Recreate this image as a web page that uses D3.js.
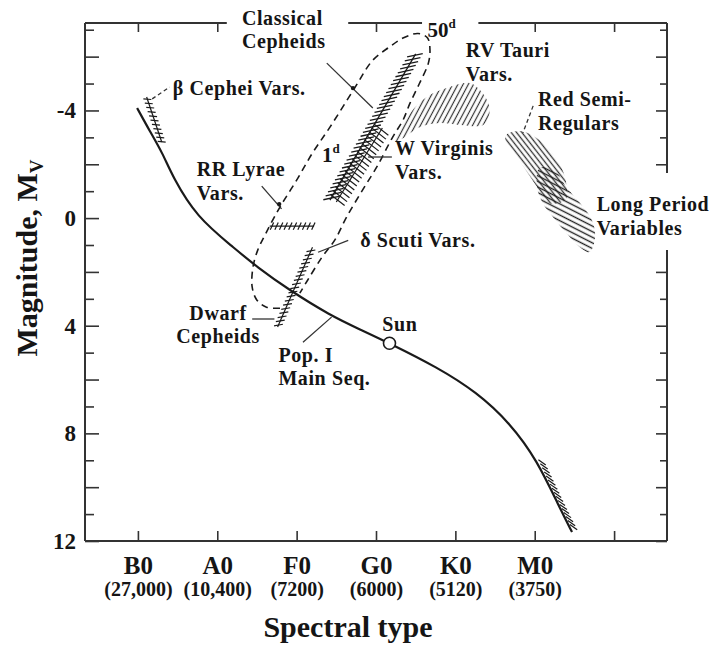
<!DOCTYPE html>
<html><head><meta charset="utf-8">
<script src="https://cdn.jsdelivr.net/npm/d3@7"></script>
<style>
html,body{margin:0;padding:0;background:#fff;}
svg{display:block;}
text{font-family:"Liberation Serif","Times New Roman",serif;font-weight:bold;fill:#151515;}
</style></head><body>
<svg id="chart" width="723" height="646"></svg>
<script>
// ---- axis categories ----
const spectralTypes = ["B0", "A0", "F0", "G0", "K0", "M0"];
const temperatures = ["(27,000)", "(10,400)", "(7200)", "(6000)", "(5120)", "(3750)"];
const magnitudeLabels = [-4, 0, 4, 8, 12];

// ---- main sequence: [spectral index, M_V] ----
const mainSequence = [[-0.01,-4.09],[0.15,-3.23],[0.31,-2.42],[0.44,-1.52],[0.74,-0.04],[1.20,1.08],
  [1.50,1.82],[1.91,2.68],[2.42,3.61],[2.80,4.14],[3.17,4.65],[3.77,5.54],[4.27,6.47],[4.69,7.62],
  [5.03,9.00],[5.31,10.74],[5.47,11.67]];
const sun = [3.17, 4.65];

// ---- instability strip boundaries ----
const stripBlueEdge = [[1.79,3.35],[1.62,3.31],[1.50,3.05],[1.44,2.57],[1.45,1.82],[1.51,1.19],[1.62,0.52],
  [1.79,-0.41],[2.00,-1.41],[2.20,-2.42],[2.42,-3.38],[2.73,-4.83],[2.96,-5.87],[3.17,-6.36],[3.34,-6.69],[3.53,-6.86]];
const stripRedEdge = [[3.65,-6.69],[3.68,-6.25],[3.66,-5.76],[3.55,-5.02],[3.43,-4.28],[3.34,-3.64],[3.21,-3.01],
  [3.01,-1.90],[2.83,-1.04],[2.63,-0.04],[2.48,0.82],[2.32,1.45],[2.14,2.30],[2.04,2.79]];

// ---- pulsating classes drawn as hatched tracks ----
const betaCephei = [[0.11,-4.50],[0.30,-2.83]];
const classicalCepheids = [[2.42,-0.67],[3.50,-6.10]];
const wVirginis = [[2.50,-0.60],[3.08,-3.35]];
const rrLyrae = [[1.66,0.30],[2.22,0.30]];
const deltaScuti = [[1.76,4.05],[2.20,1.08]];
const redDwarfs = [[5.03,9.00],[5.31,10.74],[5.45,11.55]];

// ---- pulsating classes drawn as hatched regions ----
const rvTauri = [[3.24,-2.83],[3.43,-3.90],[3.64,-4.50],[3.89,-4.83],[4.18,-5.02],[4.31,-4.76],[4.41,-4.31],
  [4.43,-3.90],[4.35,-3.46],[4.06,-3.46],[3.80,-3.53],[3.55,-3.38],[3.34,-2.97]];
const redSemiRegulars = [[4.65,-3.12],[4.84,-3.23],[5.06,-2.90],[5.21,-2.45],[5.34,-1.86],[5.40,-1.23],
  [5.39,-0.67],[5.16,-0.56],[5.03,-1.15],[4.87,-1.86],[4.74,-2.45],[4.63,-2.90]];
const longPeriodVariables = [[5.06,-1.86],[5.25,-1.78],[5.40,-1.15],[5.57,-0.56],[5.72,0.07],[5.76,0.71],
  [5.69,1.26],[5.57,1.08],[5.40,0.56],[5.23,-0.04],[5.10,-0.56],[5.03,-1.15]];

// ---- annotation text: [text, spectral index, M_V, anchor] ----
const annotations = [
  ["Classical", 1.31, -7.18, "start"], ["Cepheids", 1.31, -6.32, "start"],
  ["β Cephei Vars.", 0.44, -4.57, "start"],
  ["RR Lyrae", 0.74, -1.55, "start"], ["Vars.", 0.74, -0.68, "start"],
  ["W Virginis", 3.24, -2.33, "start"], ["Vars.", 3.24, -1.46, "start"],
  ["RV Tauri", 4.13, -5.97, "start"], ["Vars.", 4.13, -5.10, "start"],
  ["Red Semi-", 5.04, -4.15, "start"], ["Regulars", 5.04, -3.28, "start"],
  ["Long Period", 5.78, -0.25, "start"], ["Variables", 5.78, 0.62, "start"],
  ["δ Scuti Vars.", 2.80, 1.08, "start"],
  ["Dwarf", 1.01, 3.77, "middle"], ["Cepheids", 1.01, 4.64, "middle"],
  ["Pop. I", 1.77, 5.33, "start"], ["Main Seq.", 1.77, 6.20, "start"],
  ["Sun", 3.08, 4.20, "start"]
];
// period marks on the Cepheid track: [period, spectral index, M_V]
const periodMarks = [["1", 2.32, -2.08], ["50", 3.65, -6.73]];

// leader lines: [from, to], dashed flag
const leaders = [
  [[2.38,-5.76],[2.96,-4.09], false],
  [[0.18,-4.43],[0.40,-4.87], true],
  [[1.56,-1.19],[1.81,-0.34], false],
  [[2.90,-2.27],[3.20,-2.27], false],
  [[4.98,-4.17],[4.85,-3.16], true],
  [[2.65,0.83],[2.27,1.27], false],
  [[1.44,3.75],[1.72,3.75], false],
  [[2.08,4.61],[2.44,3.68], false]
];
const leaderDots = [[2.71,-4.83],[1.78,-0.52]];

// frame breaks behind labels
const topFrameGaps = [[1.12, 2.65], [3.58, 4.29]];
const rightFrameGaps = [[-1.68, 1.19]];

// ================= drawing =================
const svg = d3.select("#chart");
const x = d3.scaleLinear().domain([-2/3, 20/3]).range([85, 667]);
const y = d3.scaleLinear().domain([-7.25, 12]).range([23, 541]);
const ink = "#1a1a1a";

const defs = svg.append("defs");
function hatchPattern(id, angle, gap, width, color) {
  const p = defs.append("pattern").attr("id", id).attr("patternUnits", "userSpaceOnUse")
    .attr("width", 10).attr("height", gap).attr("patternTransform", `rotate(${angle})`);
  p.append("line").attr("x1", -1).attr("x2", 11).attr("y1", gap / 2).attr("y2", gap / 2)
    .attr("stroke", color).attr("stroke-width", width);
}
hatchPattern("hatchRV", -62, 4.6, 1.2, "#333");
hatchPattern("hatchSR", 52, 4.2, 1.3, "#333");
hatchPattern("hatchLPV", 27, 5.0, 1.4, "#222");

// ---- frame with gaps ----
const frame = svg.append("g").attr("stroke", "#333").attr("stroke-width", 2).attr("fill", "none");
function segmentsWithGaps(lo, hi, gaps) {
  const segs = []; let start = lo;
  gaps.slice().sort((a, b) => a[0] - b[0]).forEach(g => { segs.push([start, g[0]]); start = g[1]; });
  segs.push([start, hi]);
  return segs;
}
const [s0, s1] = x.domain(), [m0, m1] = y.domain();
frame.append("line").attr("x1", x(s0)).attr("x2", x(s0)).attr("y1", y(m0)).attr("y2", y(m1));
frame.append("line").attr("x1", x(s0)).attr("x2", x(s1)).attr("y1", y(m1)).attr("y2", y(m1));
segmentsWithGaps(s0, s1, topFrameGaps).forEach(s =>
  frame.append("line").attr("x1", x(s[0])).attr("x2", x(s[1])).attr("y1", y(m0)).attr("y2", y(m0)));
segmentsWithGaps(m0, m1, rightFrameGaps).forEach(s =>
  frame.append("line").attr("x1", x(s1)).attr("x2", x(s1)).attr("y1", y(s[0])).attr("y2", y(s[1])));

const inGap = (v, gaps) => gaps.some(g => v > g[0] && v < g[1]);
const majorM = d3.range(-6, 13, 2), minorM = d3.range(-7, 12, 2);

// ---- left axis ----
const yMajor = d3.axisLeft(y).tickValues(majorM).tickSize(-14).tickPadding(9)
  .tickFormat(d => magnitudeLabels.includes(d) ? String(d) : "");
const gy = svg.append("g").attr("transform", `translate(${x(s0)},0)`).call(yMajor);
svg.append("g").attr("transform", `translate(${x(s0)},0)`)
  .call(d3.axisLeft(y).tickValues(minorM).tickSize(-9).tickFormat(""));
// ---- right axis ticks ----
svg.append("g").attr("transform", `translate(${x(s1)},0)`)
  .call(d3.axisRight(y).tickValues(majorM.filter(v => !inGap(v, rightFrameGaps))).tickSize(-11).tickFormat(""));
svg.append("g").attr("transform", `translate(${x(s1)},0)`)
  .call(d3.axisRight(y).tickValues(minorM.filter(v => !inGap(v, rightFrameGaps))).tickSize(-7).tickFormat(""));
// ---- bottom axis ----
const typeIdx = d3.range(0, 7);
const gx = svg.append("g").attr("transform", `translate(0,${y(m1)})`)
  .call(d3.axisBottom(x).tickValues(typeIdx).tickSize(-10).tickPadding(15)
    .tickFormat(d => spectralTypes[d] || ""));
gx.selectAll(".tick text").each(function(d) {
  if (!temperatures[d]) return;
  d3.select(this).append("tspan").attr("x", 0).attr("dy", "1.1em")
    .style("font-size", "20px").text(temperatures[d]);
});
// ---- top axis ticks ----
svg.append("g").attr("transform", `translate(0,${y(m0)})`)
  .call(d3.axisTop(x).tickValues(typeIdx.filter(v => !inGap(v, topFrameGaps))).tickSize(-9).tickFormat(""));

svg.selectAll(".domain").remove();
svg.selectAll(".tick line").attr("stroke", "#333").attr("stroke-width", 1.6);
gy.selectAll(".tick text").style("font-size", "23px").attr("fill", ink)
  .style("font-family", "'Liberation Serif',serif").style("font-weight", "bold");
gx.selectAll(".tick text").style("font-size", "25px").attr("fill", ink)
  .style("font-family", "'Liberation Serif',serif").style("font-weight", "bold");

// ---- axis titles ----
svg.append("text").attr("x", 348).attr("y", 637)
  .attr("text-anchor", "middle").style("font-size", "30px").text("Spectral type");
const yt = svg.append("text").attr("transform", "translate(37,258) rotate(-90)")
  .attr("text-anchor", "middle").style("font-size", "30px");
yt.append("tspan").text("Magnitude, M");
yt.append("tspan").attr("dy", 6).style("font-size", "19px").text("V");

// ---- hatched regions ----
const area = d3.line().x(d => x(d[0])).y(d => y(d[1])).curve(d3.curveCatmullRomClosed.alpha(0.5));
svg.append("path").datum(rvTauri).attr("d", area).attr("fill", "url(#hatchRV)");
svg.append("path").datum(redSemiRegulars).attr("d", area).attr("fill", "url(#hatchSR)");
svg.append("path").datum(longPeriodVariables).attr("d", area).attr("fill", "url(#hatchLPV)");

// ---- instability strip ----
svg.append("path").datum(stripBlueEdge.concat(stripRedEdge))
  .attr("d", d3.line().x(d => x(d[0])).y(d => y(d[1])).curve(d3.curveCatmullRom.alpha(0.5)))
  .attr("fill", "none").attr("stroke", ink).attr("stroke-width", 1.6).attr("stroke-dasharray", "7,5");

// ---- main sequence ----
svg.append("path").datum(mainSequence)
  .attr("d", d3.line().x(d => x(d[0])).y(d => y(d[1])).curve(d3.curveBasis))
  .attr("fill", "none").attr("stroke", ink).attr("stroke-width", 2.2);

// ---- hatched tracks ----
function hatchedTrack(pts, o) {
  const px = pts.map(d => [x(d[0]), y(d[1])]);
  const g = svg.append("g").attr("stroke", ink).attr("stroke-width", o.w || 1.4).attr("fill", "none");
  if (o.spine) g.append("path").attr("d", d3.line()(px));
  const lens = [];
  for (let i = 1; i < px.length; i++) lens.push(Math.hypot(px[i][0] - px[i-1][0], px[i][1] - px[i-1][1]));
  const total = d3.sum(lens);
  const a = o.angle * Math.PI / 180, hx = Math.cos(a) * o.len / 2, hy = Math.sin(a) * o.len / 2;
  const sh = o.shift || [0, 0];
  for (let t = o.spacing / 2; t < total; t += o.spacing) {
    let k = 0, r = t;
    while (k < lens.length - 1 && r > lens[k]) { r -= lens[k]; k++; }
    const f = r / lens[k];
    const cx = px[k][0] + (px[k+1][0] - px[k][0]) * f + sh[0];
    const cy = px[k][1] + (px[k+1][1] - px[k][1]) * f + sh[1];
    g.append("line").attr("x1", cx - hx).attr("y1", cy - hy).attr("x2", cx + hx).attr("y2", cy + hy);
  }
}
hatchedTrack(betaCephei, {angle: 5, len: 8, spacing: 4.5, spine: true, w: 1.2});
hatchedTrack(classicalCepheids, {angle: -12, len: 16, spacing: 4.6, spine: true, w: 1.3});
hatchedTrack(wVirginis, {angle: 38, len: 18, spacing: 4.6, spine: true, w: 1.2});
hatchedTrack(rrLyrae, {angle: -65, len: 8, spacing: 4.6, spine: true, w: 1.2});
hatchedTrack(deltaScuti, {angle: -10, len: 9, spacing: 4.5, spine: true, w: 1.2});
hatchedTrack(redDwarfs, {angle: 35, len: 9, spacing: 4.5, spine: false, shift: [4, 0], w: 1.2});

// ---- leaders ----
leaders.forEach(([a, b, dashed]) => {
  svg.append("line").attr("x1", x(a[0])).attr("y1", y(a[1])).attr("x2", x(b[0])).attr("y2", y(b[1]))
    .attr("stroke", "#333").attr("stroke-width", 1.3).attr("stroke-dasharray", dashed ? "4,3" : null);
});
svg.selectAll(".ldot").data(leaderDots).enter().append("circle")
  .attr("cx", d => x(d[0])).attr("cy", d => y(d[1])).attr("r", 2.2).attr("fill", ink);

// ---- Sun ----
svg.append("circle").attr("cx", x(sun[0])).attr("cy", y(sun[1])).attr("r", 6)
  .attr("fill", "#fff").attr("stroke", ink).attr("stroke-width", 1.6);

// ---- labels ----
svg.selectAll(".ann").data(annotations).enter().append("text")
  .attr("x", d => x(d[1])).attr("y", d => y(d[2])).attr("text-anchor", d => d[3])
  .style("font-size", "20px").style("letter-spacing", "0.6px").text(d => d[0]);
periodMarks.forEach(([p, s, m]) => {
  const t = svg.append("text").attr("x", x(s)).attr("y", y(m)).style("font-size", "21px");
  t.append("tspan").text(p);
  t.append("tspan").attr("dy", -9).style("font-size", "13px").text("d");
});
</script>
</body></html>
